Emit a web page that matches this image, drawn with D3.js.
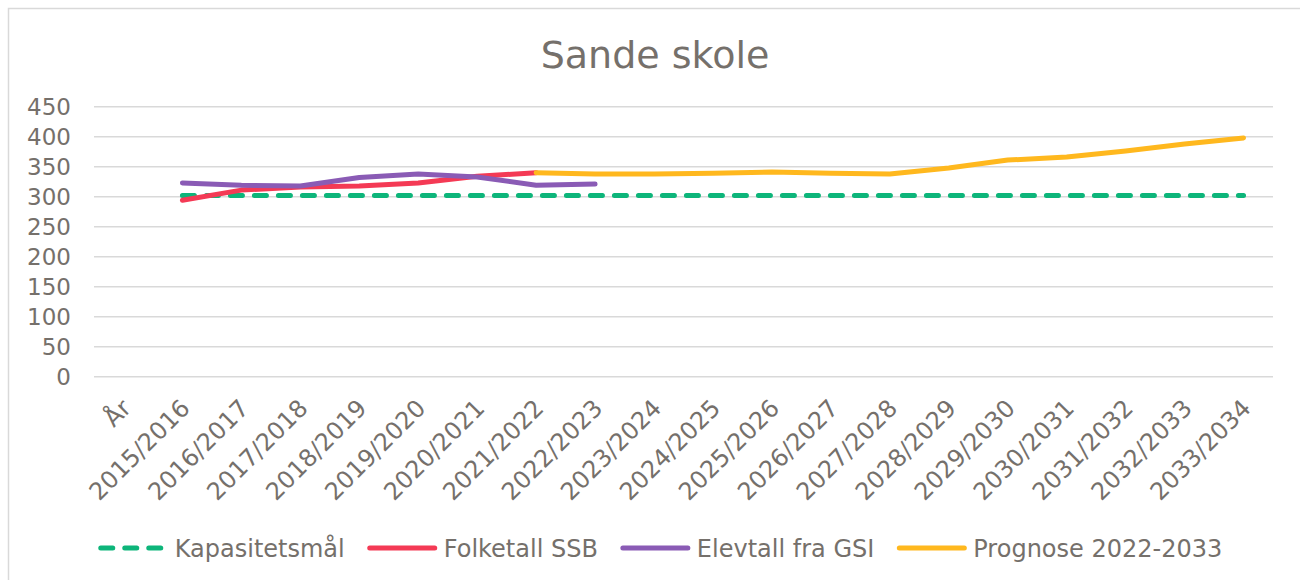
<!DOCTYPE html>
<html>
<head>
<meta charset="utf-8">
<script src="https://cdn.jsdelivr.net/npm/d3@7"></script>
<style>
  body { margin: 0; background: #fff; }
  text { font-family: "DejaVu Sans", Verdana, sans-serif; fill: #75706b; }
</style>
</head>
<body>
<div id="chart"></div>
<script>
const categories = ["År", "2015/2016", "2016/2017", "2017/2018", "2018/2019", "2019/2020",
    "2020/2021", "2021/2022", "2022/2023", "2023/2024", "2024/2025", "2025/2026",
    "2026/2027", "2027/2028", "2028/2029", "2029/2030", "2030/2031", "2031/2032",
    "2032/2033", "2033/2034"];

const kapasitet = [null, 302, 302, 302, 302, 302, 302, 302, 302, 302, 302, 302, 302, 302, 302, 302, 302, 302, 302, 302];
const folketall = [null, 294, 311, 316, 318, 323, 334, 340, null, null, null, null, null, null, null, null, null, null, null, null];
const elevtall = [null, 323, 319, 318, 332, 338, 333, 319, 321, null, null, null, null, null, null, null, null, null, null, null];
const prognose = [null, null, null, null, null, null, null, 340, 338, 338, 339, 341, 339, 338, 348, 361, 366, 376, 388, 398];

const yTicks = [0, 50, 100, 150, 200, 250, 300, 350, 400, 450];

const series = [
    { name: "Kapasitetsmål", values: kapasitet, color: "#0db57a", dash: "12 12" },
    { name: "Folketall SSB", values: folketall, color: "#f43a55", dash: null },
    { name: "Elevtall fra GSI", values: elevtall, color: "#8a5bb5", dash: null },
    { name: "Prognose 2022-2033", values: prognose, color: "#ffb81e", dash: null }
];

const width = 1300, height = 580;

const svg = d3.select("#chart").append("svg")
    .attr("width", width)
    .attr("height", height);

// chart frame
svg.append("rect")
    .attr("x", 8.5).attr("y", 8.5)
    .attr("width", width + 20).attr("height", height + 20)
    .attr("fill", "none")
    .attr("stroke", "#d9d9d9")
    .attr("stroke-width", 1.5);

svg.append("text")
    .attr("x", 655)
    .attr("y", 68)
    .attr("text-anchor", "middle")
    .style("font-size", "38px")
    .text("Sande skole");

const x = d3.scaleBand()
    .domain(categories)
    .range([94, 1273]);

const y = d3.scaleLinear()
    .domain([0, 450])
    .range([376.7, 106.7]);

const grid = svg.append("g");
grid.selectAll("line")
    .data(yTicks)
    .enter().append("line")
    .attr("x1", 94).attr("x2", 1273)
    .attr("y1", d => y(d)).attr("y2", d => y(d))
    .attr("stroke", "#d9d9d9")
    .attr("stroke-width", 1.5);

const yAxis = svg.append("g")
    .attr("transform", "translate(71,0)")
    .call(d3.axisLeft(y).tickValues(yTicks).tickSize(0).tickPadding(0));
yAxis.select(".domain").remove();
yAxis.selectAll("text")
    .style("font-size", "23px")
    .style("fill", "#75706b")
    .attr("dy", "0.36em");

const xAxis = svg.append("g")
    .attr("transform", "translate(0,376.7)")
    .call(d3.axisBottom(x).tickSize(0));
xAxis.select(".domain").remove();
xAxis.selectAll("text")
    .style("font-size", "24px")
    .style("fill", "#75706b")
    .attr("text-anchor", "end")
    .attr("transform", "translate(-3,21) rotate(-45)")
    .attr("x", 0).attr("y", 0).attr("dy", "0.7em");

const line = d3.line()
    .defined(d => d.v != null)
    .x(d => x(d.c) + x.bandwidth() / 2)
    .y(d => y(d.v));

svg.append("g").selectAll("path")
    .data(series)
    .enter().append("path")
    .attr("d", s => line(s.values.map((v, i) => ({ c: categories[i], v: v }))))
    .attr("fill", "none")
    .attr("stroke", s => s.color)
    .attr("stroke-width", 5)
    .attr("stroke-linecap", "round")
    .attr("stroke-linejoin", "round")
    .attr("stroke-dasharray", s => s.dash);

// legend
const legend = svg.append("g").attr("transform", "translate(0,548)");
let lx = 0;
const items = legend.selectAll("g")
    .data(series)
    .enter().append("g");
items.append("line")
    .attr("x1", 3).attr("x2", 68)
    .attr("stroke", s => s.color)
    .attr("stroke-width", 5)
    .attr("stroke-linecap", "round")
    .attr("stroke-dasharray", s => s.dash);
items.append("text")
    .attr("x", 77)
    .attr("dy", "0.36em")
    .style("font-size", "24px")
    .text(s => s.name);
items.each(function () {
    const w = 77 + this.querySelector("text").getComputedTextLength();
    d3.select(this).attr("transform", `translate(${lx},0)`);
    lx += w + 22;
});
lx -= 22;
legend.attr("transform", `translate(${660 - lx / 2},548)`);
</script>
</body>
</html>
